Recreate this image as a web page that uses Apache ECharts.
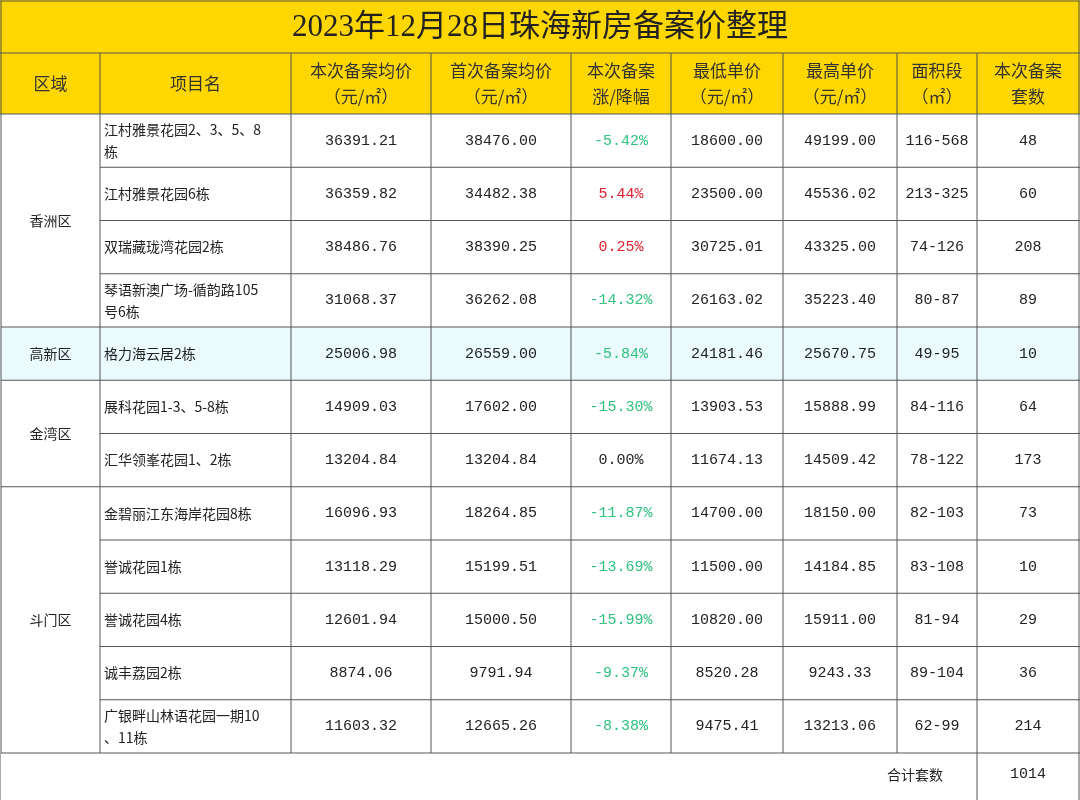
<!DOCTYPE html>
<html>
<head>
<meta charset="utf-8">
<title>珠海新房备案价</title>
<script src="https://cdn.jsdelivr.net/npm/echarts@6/dist/echarts.min.js"></script>
<style>body{margin:0;background:#fff}</style>
</head>
<body>
<div id="main" style="width:1080px;height:800px;"></div>
<script type="text/javascript">
// 表格数据
var title = '2023年12月28日珠海新房备案价整理';
var headers = ['区域', '项目名', '本次备案均价\n（元/㎡）', '首次备案均价\n（元/㎡）', '本次备案\n涨/降幅', '最低单价\n（元/㎡）', '最高单价\n（元/㎡）', '面积段\n（㎡）', '本次备案\n套数'];
var districts = [['香洲区', 4], ['高新区', 1], ['金湾区', 2], ['斗门区', 5]];
var projects = ['江村雅景花园2、3、5、8\n栋', '江村雅景花园6栋', '双瑞藏珑湾花园2栋', '琴语新澳广场-循韵路105\n号6栋', '格力海云居2栋', '展科花园1-3、5-8栋', '汇华领峯花园1、2栋', '金碧丽江东海岸花园8栋', '誉诚花园1栋', '誉诚花园4栋', '诚丰荔园2栋', '广银畔山林语花园一期10\n、11栋'];
var avgNow = ['36391.21', '36359.82', '38486.76', '31068.37', '25006.98', '14909.03', '13204.84', '16096.93', '13118.29', '12601.94', '8874.06', '11603.32'];
var avgFirst = ['38476.00', '34482.38', '38390.25', '36262.08', '26559.00', '17602.00', '13204.84', '18264.85', '15199.51', '15000.50', '9791.94', '12665.26'];
var change = ['-5.42%', '5.44%', '0.25%', '-14.32%', '-5.84%', '-15.30%', '0.00%', '-11.87%', '-13.69%', '-15.99%', '-9.37%', '-8.38%'];
var minPrice = ['18600.00', '23500.00', '30725.01', '26163.02', '24181.46', '13903.53', '11674.13', '14700.00', '11500.00', '10820.00', '8520.28', '9475.41'];
var maxPrice = ['49199.00', '45536.02', '43325.00', '35223.40', '25670.75', '15888.99', '14509.42', '18150.00', '14184.85', '15911.00', '9243.33', '13213.06'];
var areaRange = ['116-568', '213-325', '74-126', '80-87', '49-95', '84-116', '78-122', '82-103', '83-108', '81-94', '89-104', '62-99'];
var units = ['48', '60', '208', '89', '10', '64', '173', '73', '10', '29', '36', '214'];
var totalLabel = '合计套数';
var totalUnits = '1014';

var colX = [1, 100, 291, 431, 571, 671, 783, 897, 977, 1079];
var titleH = 53, headY = 53, headH = 61, rowY0 = 114, rowH = 53.25, totalH = 47;
var FONT = '"Noto Sans CJK SC", serif';
var NUM = '"Liberation Mono", "Noto Sans CJK SC", monospace';
var LINE = '#555';

var els = [];
function rect(x, y, w, h, fill) {
    els.push({type: 'rect', shape: {x: x, y: y, width: w, height: h}, style: {fill: fill}, silent: true});
}
function line(x1, y1, x2, y2) {
    els.push({type: 'line', shape: {x1: x1, y1: y1, x2: x2, y2: y2}, style: {stroke: LINE, lineWidth: 1}, silent: true});
}
function text(s, x, y, opt) {
    opt = opt || {};
    els.push({type: 'text', x: x, y: y, silent: true, style: {
        text: s, fill: opt.color || '#222', font: (opt.weight || 'normal') + ' ' + (opt.size || 14) + 'px ' + (opt.font || FONT),
        align: opt.align || 'center', verticalAlign: 'middle', lineHeight: opt.lh || 22
    }});
}

var nRows = projects.length;
var tableBottom = rowY0 + nRows * rowH;
// 背景
rect(0, 0, 1080, rowY0, '#fed700');
var r = 0;
districts.forEach(function (d) {
    if (d[0] === '高新区') rect(0, rowY0 + r * rowH, 1080, rowH * d[1], '#eafafd');
    r += d[1];
});
// 标题
text(title, 540, 28, {size: 31, color: '#222', font: '"Liberation Serif", "Noto Sans CJK SC", serif'});
// 表头
headers.forEach(function (h, i) {
    text(h, (colX[i] + colX[i + 1]) / 2, headY + headH / 2, {size: 17, lh: 26, color: '#333'});
});
// 数据行
for (var i = 0; i < nRows; i++) {
    var cy = rowY0 + i * rowH + rowH / 2;
    var ch = change[i];
    var cc = ch.charAt(0) === '-' ? '#2ec27e' : (ch === '0.00%' ? '#222' : '#e0202e');
    text(projects[i], colX[1] + 4, cy, {align: 'left', size: 14});
    text(avgNow[i], (colX[2] + colX[3]) / 2, cy, {size: 15, font: NUM});
    text(avgFirst[i], (colX[3] + colX[4]) / 2, cy, {size: 15, font: NUM});
    text(ch, (colX[4] + colX[5]) / 2, cy, {size: 15, color: cc, font: NUM});
    text(minPrice[i], (colX[5] + colX[6]) / 2, cy, {size: 15, font: NUM});
    text(maxPrice[i], (colX[6] + colX[7]) / 2, cy, {size: 15, font: NUM});
    text(areaRange[i], (colX[7] + colX[8]) / 2, cy, {size: 15, font: NUM});
    text(units[i], (colX[8] + colX[9]) / 2, cy, {size: 15, font: NUM});
}
// 区域合并单元格
r = 0;
districts.forEach(function (d) {
    var y0 = rowY0 + r * rowH;
    text(d[0], (colX[0] + colX[1]) / 2, y0 + d[1] * rowH / 2, {size: 14});
    r += d[1];
    line(colX[0], rowY0 + r * rowH, colX[1], rowY0 + r * rowH);
});
// 网格线
line(0, 1, 1080, 1);
line(0, headY, 1080, headY);
line(0, rowY0, 1080, rowY0);
for (var k = 1; k <= nRows; k++) line(colX[1], rowY0 + k * rowH, 1080, rowY0 + k * rowH);
colX.forEach(function (x, j) {
    var top = j === 0 || j === colX.length - 1 ? 1 : headY;
    line(x, top, x, tableBottom);
});
// 合计行
text(totalLabel, 915, tableBottom + totalH / 2 - 2, {size: 14});
text(totalUnits, (colX[8] + colX[9]) / 2, tableBottom + totalH / 2 - 2, {size: 15, font: NUM});
line(colX[8], tableBottom, colX[8], 800);
line(1079, tableBottom, 1079, 800);
line(0, tableBottom, 0, 800);

var myChart = echarts.init(document.getElementById('main'));
myChart.setOption({
    animation: false,
    graphic: {elements: els}
});
</script>
</body>
</html>
